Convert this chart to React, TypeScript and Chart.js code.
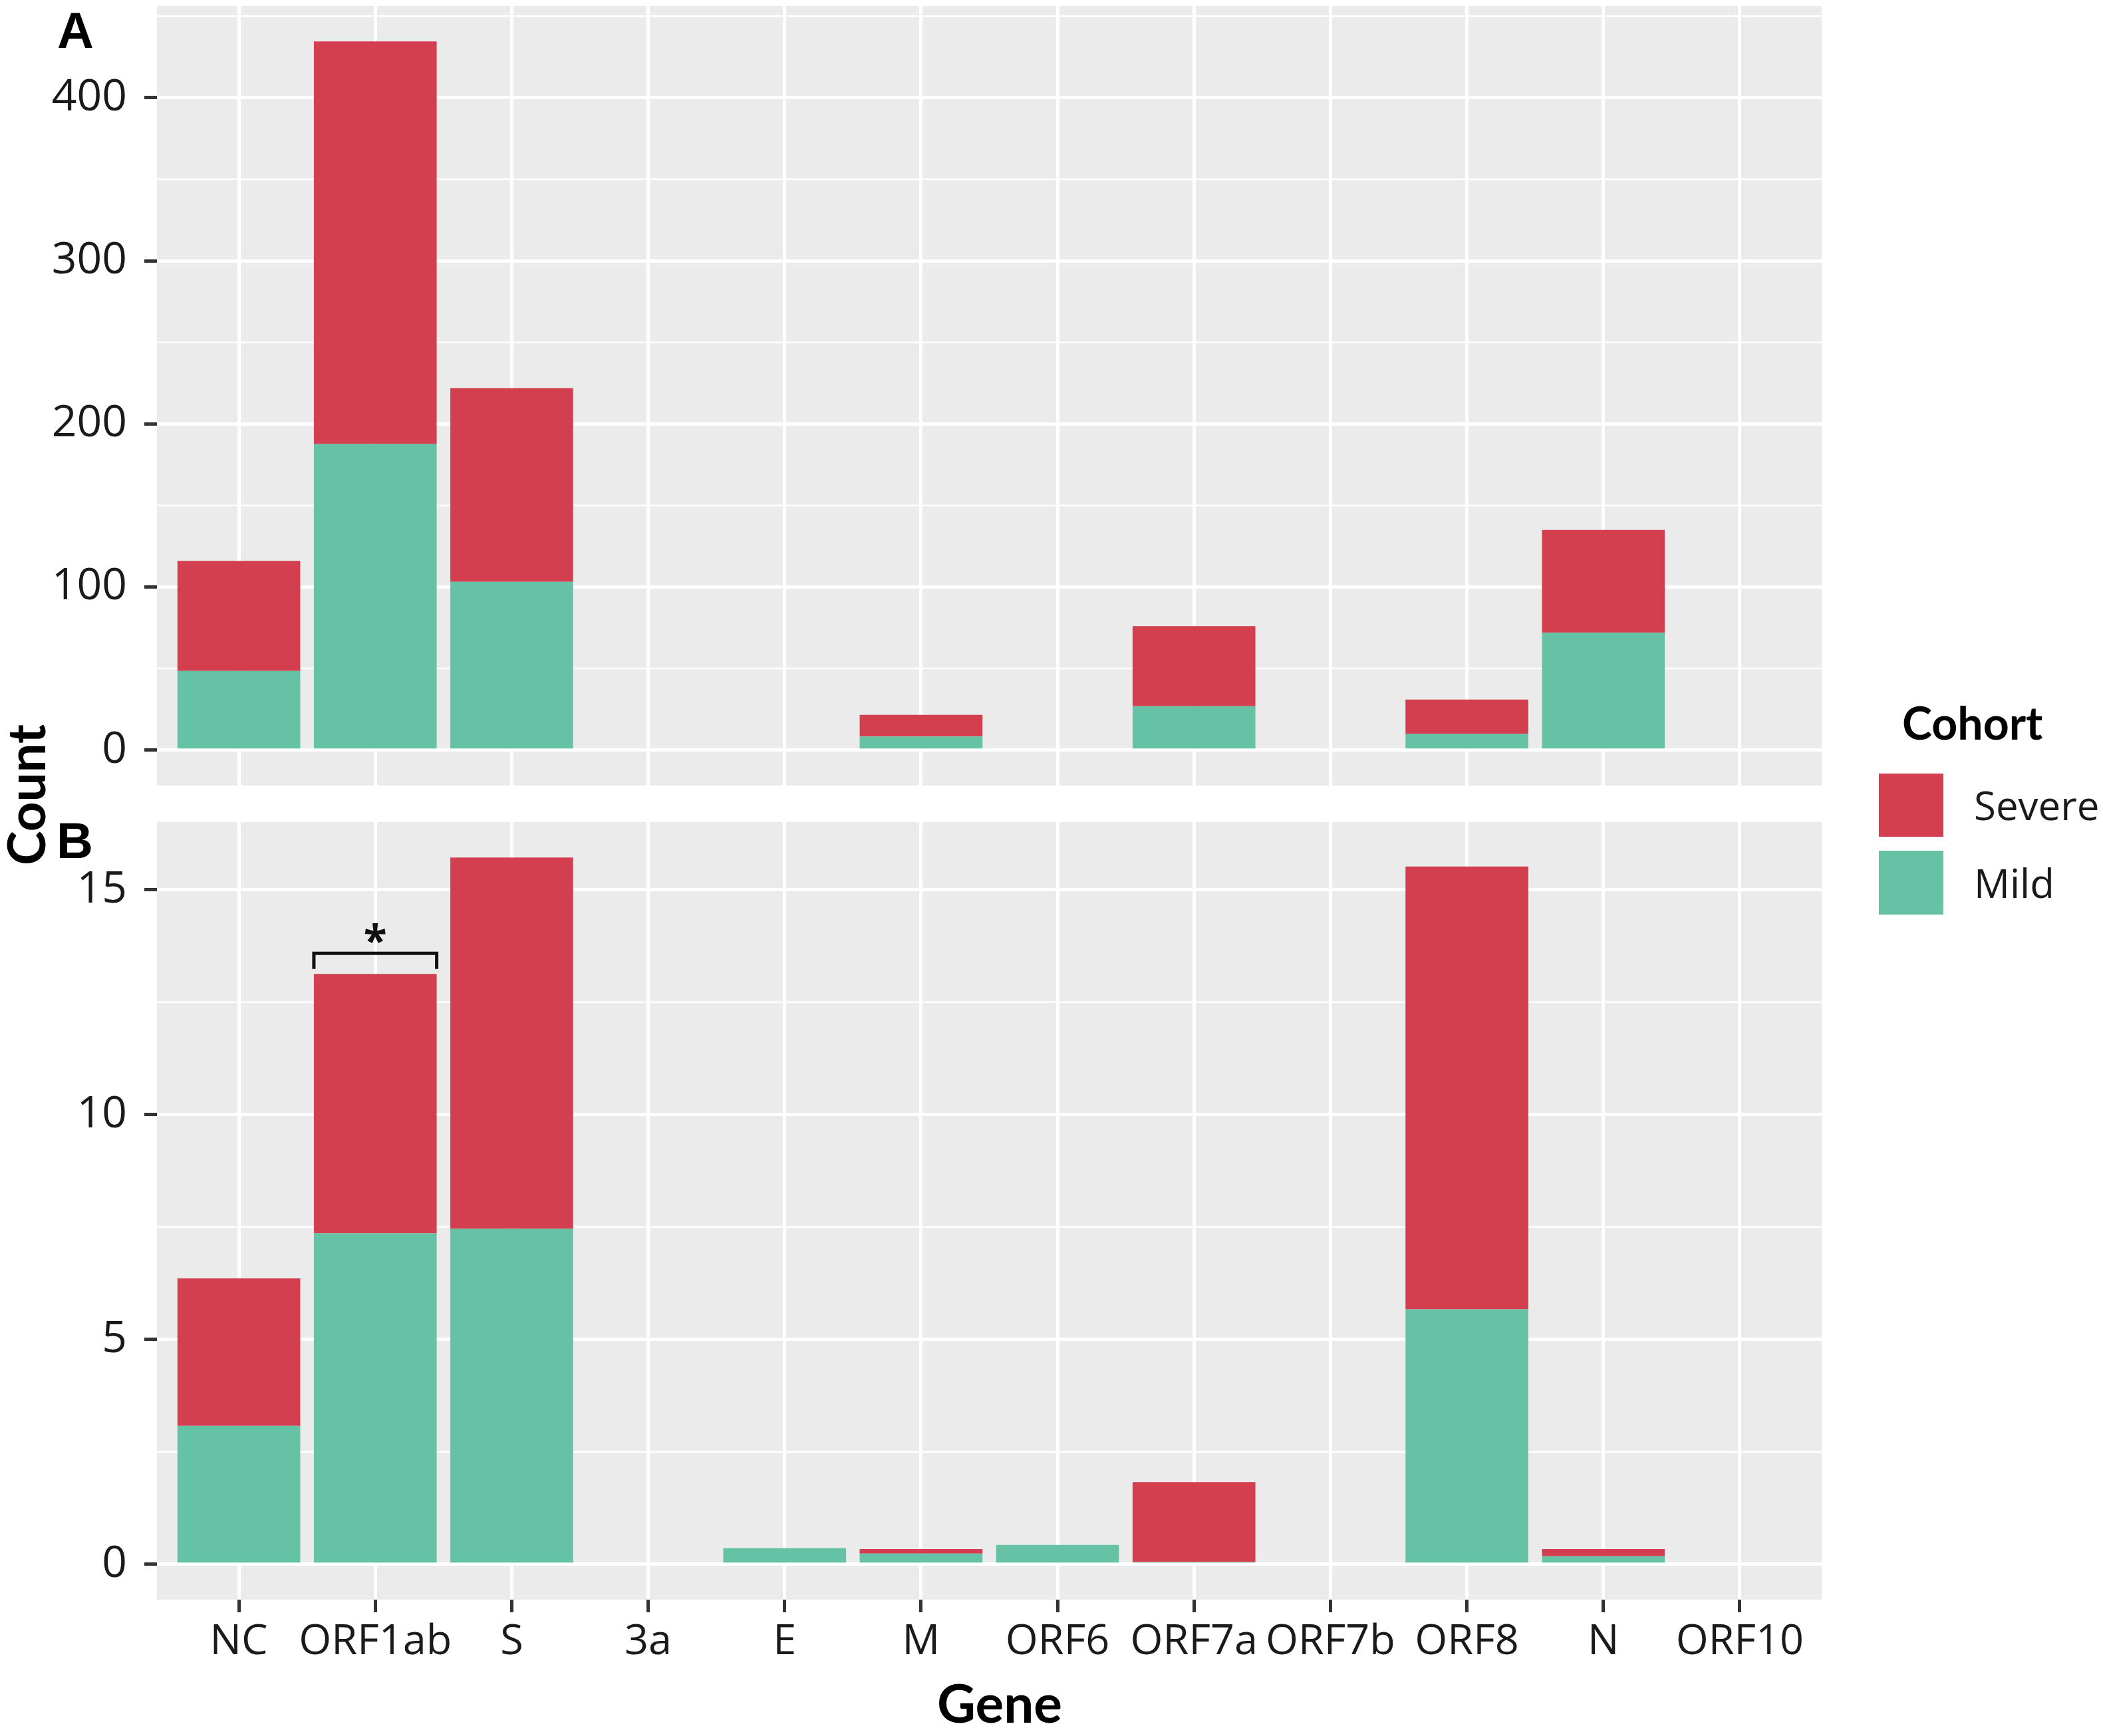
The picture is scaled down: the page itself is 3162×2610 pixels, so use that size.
import { useEffect, useRef } from "react";
import Chart from "chart.js/auto";

// genes along the x axis
const genes = ["NC", "ORF1ab", "S", "3a", "E", "M", "ORF6", "ORF7a", "ORF7b", "ORF8", "N", "ORF10"];

// panel A – counts
const mildA = [48.5, 187.7, 103.2, 0, 0, 8.3, 0, 26.9, 0, 10, 72, 0];
const severeA = [67.5, 246.8, 118.7, 0, 0, 13.3, 0, 49.1, 0, 21, 63, 0];
const ticksA = [0, 100, 200, 300, 400];
const minorA = [50, 150, 250, 350, 450];

// panel B – normalised counts
const mildB = [3.08, 7.36, 7.46, 0, 0.36, 0.24, 0.43, 0.05, 0, 5.67, 0.18, 0];
const severeB = [3.28, 5.77, 8.26, 0, 0, 0.1, 0, 1.78, 0, 9.85, 0.16, 0];
const ticksB = [0, 5, 10, 15];
const minorB = [2.5, 7.5, 12.5];

// significance mark over ORF1ab in panel B
const sigGene = 1;
const sigLineY = 13.59;
const sigTipY = 13.24;
const sigStarY = 13.8;

const RED = "#D43F50";
const GREEN = "#66C2A5";
const PANEL_BG = "#EBEBEB";
const TEXT = "#1A1A1A";
const Y_FONT = { family: "'Open Sans', sans-serif", size: 66 };
const X_FONT = { family: "'Open Sans', sans-serif", size: 63 };

const panelBg = {
  id: "panelBg",
  beforeDraw(chart: any) {
    const { ctx, chartArea: a } = chart;
    ctx.save();
    ctx.fillStyle = PANEL_BG;
    ctx.fillRect(a.left, a.top, a.right - a.left, a.bottom - a.top);
    ctx.restore();
  },
};

function minorGrid(values: number[]) {
  return {
    id: "minorGrid",
    beforeDatasetsDraw(chart: any) {
      const { ctx, chartArea: a, scales } = chart;
      ctx.save();
      ctx.strokeStyle = "#FFFFFF";
      ctx.lineWidth = 2.5;
      values.forEach((v) => {
        const py = scales.y.getPixelForValue(v);
        ctx.beginPath();
        ctx.moveTo(a.left, py);
        ctx.lineTo(a.right, py);
        ctx.stroke();
      });
      ctx.restore();
    },
  };
}

const signifMark = {
  id: "signifMark",
  afterDatasetsDraw(chart: any) {
    const { ctx, scales } = chart;
    const { x, y } = scales;
    const x0 = x.getPixelForValue(sigGene - 0.45);
    const x1 = x.getPixelForValue(sigGene + 0.45);
    const yl = y.getPixelForValue(sigLineY);
    const yt = y.getPixelForValue(sigTipY);
    ctx.save();
    ctx.strokeStyle = "#111111";
    ctx.lineWidth = 5;
    ctx.beginPath();
    ctx.moveTo(x0, yt);
    ctx.lineTo(x0, yl);
    ctx.lineTo(x1, yl);
    ctx.lineTo(x1, yt);
    ctx.stroke();
    ctx.fillStyle = "#111111";
    ctx.font = "bold 64px 'Open Sans', sans-serif";
    ctx.textAlign = "center";
    ctx.textBaseline = "middle";
    ctx.fillText("*", x.getPixelForValue(sigGene), y.getPixelForValue(sigStarY));
    ctx.restore();
  },
};

function makeChart(
  canvas: HTMLCanvasElement,
  mild: number[],
  severe: number[],
  yTicks: number[],
  minor: number[],
  showX: boolean,
  padTop: number,
  extra: any[]
) {
  const top = Math.max(...mild.map((m, i) => m + severe[i]));
  return new Chart(canvas, {
    type: "bar",
    data: {
      datasets: [
        {
          label: "Mild",
          data: mild.map((v, i) => ({ x: i, y: v })),
          backgroundColor: GREEN,
          borderWidth: 0,
          barPercentage: 0.9,
          categoryPercentage: 1,
        },
        {
          label: "Severe",
          data: severe.map((v, i) => ({ x: i, y: v })),
          backgroundColor: RED,
          borderWidth: 0,
          barPercentage: 0.9,
          categoryPercentage: 1,
        },
      ],
    },
    options: {
      animation: false,
      responsive: false,
      devicePixelRatio: 1,
      layout: { padding: { top: padTop, left: 0, right: 0, bottom: 0 } },
      plugins: {
        legend: { display: false },
        tooltip: { enabled: false },
      },
      scales: {
        x: {
          type: "linear",
          stacked: true,
          offset: false,
          min: -0.6,
          max: genes.length - 1 + 0.6,
          afterBuildTicks: (s: any) => {
            s.ticks = genes.map((_, i) => ({ value: i }));
          },
          afterFit: (s: any) => {
            s.height = showX ? 205 : 0;
          },
          grid: {
            color: "#FFFFFF",
            lineWidth: 5,
            offset: false,
            drawTicks: showX,
            tickLength: 19,
            tickColor: "#333333",
            tickWidth: 5,
          },
          border: { display: false },
          ticks: {
            display: showX,
            autoSkip: false,
            maxRotation: 0,
            minRotation: 0,
            padding: 7,
            color: TEXT,
            font: X_FONT,
            callback: (v: any) => genes[v as number] ?? "",
          },
        },
        y: {
          type: "linear",
          stacked: true,
          min: -0.05 * top,
          max: 1.05 * top,
          afterBuildTicks: (s: any) => {
            s.ticks = yTicks.map((value) => ({ value }));
          },
          afterFit: (s: any) => {
            s.width = 236;
            // labels sit well inside the panel, no extra room needed
            s.paddingTop = 0;
            s.paddingBottom = 0;
          },
          grid: {
            color: "#FFFFFF",
            lineWidth: 5,
            tickLength: 19,
            tickColor: "#333333",
            tickWidth: 5,
          },
          border: { display: false },
          ticks: { color: TEXT, font: Y_FONT, padding: 26 },
        },
      },
    },
    plugins: [panelBg, minorGrid(minor), ...extra],
  } as any);
}

const abs = (s: React.CSSProperties): React.CSSProperties => ({ position: "absolute", whiteSpace: "nowrap", lineHeight: 1, ...s });

export default function App() {
  const refA = useRef<HTMLCanvasElement | null>(null);
  const refB = useRef<HTMLCanvasElement | null>(null);

  useEffect(() => {
    if (!refA.current || !refB.current) return;
    const a = makeChart(refA.current, mildA, severeA, ticksA, minorA, false, 9, []);
    const b = makeChart(refB.current, mildB, severeB, ticksB, minorB, true, 36, [signifMark]);
    return () => {
      a.destroy();
      b.destroy();
    };
  }, []);

  const lato = "Lato, sans-serif";
  const open = "'Open Sans', sans-serif";

  return (
    <div style={{ position: "absolute", left: 0, top: 0, width: 3162, height: 2610, background: "#fff", overflow: "hidden" }}>
      <canvas ref={refA} width={2739} height={1181} style={{ position: "absolute", left: 0, top: 0, width: 2739, height: 1181 }} />
      <canvas ref={refB} width={2739} height={1410} style={{ position: "absolute", left: 0, top: 1200, width: 2739, height: 1410 }} />

      <div style={abs({ left: 86, top: 8, fontFamily: "'Liberation Sans', Arial, sans-serif", fontWeight: 700, fontSize: 76, color: "#000" })}>A</div>
      <div style={abs({ left: 85, top: 1226, fontFamily: "'Liberation Sans', Arial, sans-serif", fontWeight: 700, fontSize: 76, color: "#000" })}>B</div>

      <div
        style={abs({
          left: -212,
          top: 1156,
          width: 500,
          height: 78,
          textAlign: "center",
          transform: "rotate(-90deg)",
          fontFamily: lato,
          fontWeight: 700,
          fontSize: 78,
          color: "#000",
        })}
      >
        Count
      </div>
      <div style={abs({ left: 1303, top: 2519, width: 400, textAlign: "center", fontFamily: lato, fontWeight: 700, fontSize: 80, color: "#000" })}>
        Gene
      </div>

      <div style={abs({ left: 2860, top: 1052, fontFamily: lato, fontWeight: 700, fontSize: 68, color: "#000" })}>Cohort</div>
      <div style={abs({ left: 2825, top: 1163, width: 97, height: 95, background: RED })} />
      <div style={abs({ left: 2825, top: 1279, width: 97, height: 96, background: GREEN })} />
      <div style={abs({ left: 2968, top: 1180, fontFamily: open, fontSize: 60, color: TEXT })}>Severe</div>
      <div style={abs({ left: 2968, top: 1297, fontFamily: open, fontSize: 60, color: TEXT })}>Mild</div>
    </div>
  );
}
